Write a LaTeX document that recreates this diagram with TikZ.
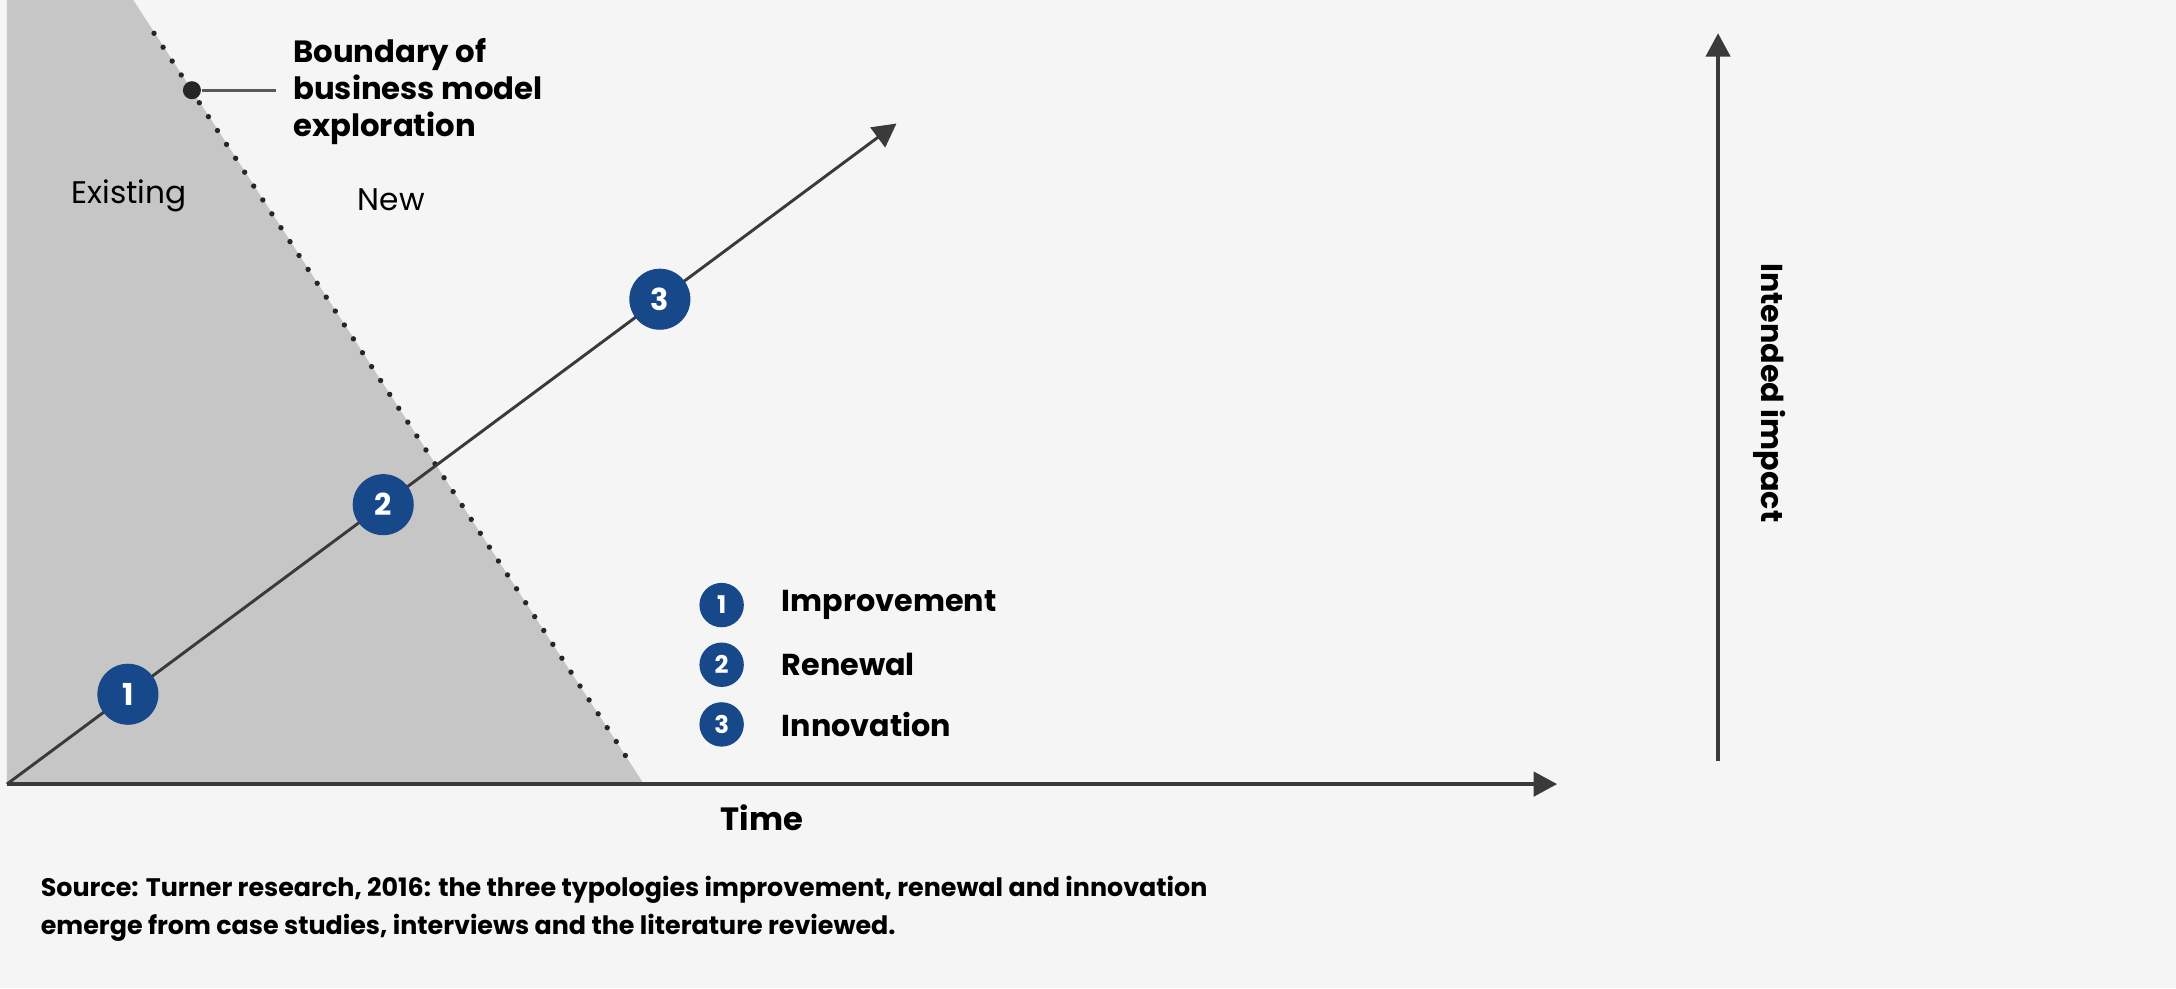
\documentclass[tikz,border=0pt]{standalone}
\usepackage{fontspec}
\setmainfont{Poppins}
\usetikzlibrary{arrows.meta,calc}
\definecolor{paper}{HTML}{F5F5F5}
\definecolor{zonegray}{HTML}{C6C6C6}
\definecolor{typeblue}{HTML}{17488A}
\definecolor{axisgray}{HTML}{3A3A3A}

\begin{document}
\begin{tikzpicture}[
	axis/.style={
		draw=axisgray,
		line width=0.7pt,
		-{Triangle[length=4.8pt,width=5pt]}
	},
	typology/.style={
		circle,
		fill=typeblue,
		text=white,
		inner sep=0pt,
		minimum size=0.44cm,
		font=\fontsize{6.2}{7}\selectfont\bfseries
	},
	legenddot/.style={
		typology,
		minimum size=0.32cm,
		font=\fontsize{5}{6}\selectfont\bfseries
	},
	legendtext/.style={
		anchor=west,
		font=\fontsize{6.2}{8}\selectfont\bfseries
	},
	zonelabel/.style={
		font=\fontsize{6.4}{8}\selectfont
	},
]

\fill[paper] (-0.05,-1.47) rectangle (15.63,5.65);
\useasboundingbox (-0.05,-1.47) rectangle (15.63,5.65);

% existing business models
\fill[zonegray] (0,0) -- (0,5.65) -- (0.91,5.65) -- (4.59,0) -- cycle;

\coordinate (origin) at (0,0);
\coordinate (btop) at (1.06,5.41);
\coordinate (bbot) at (4.48,0.17);
\draw[black!85, line width=1.1pt, line cap=round, dash pattern=on 0pt off 3.4pt] (btop) -- (bbot);

\node[circle, fill=black!85, inner sep=0pt, minimum size=0.13cm] (bmark) at (1.333,5.00) {};
\node[anchor=west, align=left, font=\fontsize{6.3}{7.5}\selectfont\bfseries] 
(btext) at (1.94,4.99) {Boundary of\\business model\\exploration};
\draw[black!65, line width=0.7pt] (bmark) -- (bmark -| btext.west);

\node[zonelabel] (existing) at (0.88,4.24) {Existing};
\node[zonelabel] (new) at (2.77,4.21) {New};

% typology path
\coordinate (dtip) at (6.41,4.76);
\draw[axisgray, line width=0.6pt, -{Triangle[length=4.8pt,width=5pt]}] (origin) -- (dtip);

\node[typology] (t1) at ($(origin)!0.136!(dtip)$) {1};
\node[typology] (t2) at ($(origin)!0.423!(dtip)$) {2};
\node[typology] (t3) at ($(origin)!0.734!(dtip)$) {3};

% axes
\coordinate (xtip) at (11.17,0);
\draw[axis] (origin) -- (xtip);
\node[font=\fontsize{6.6}{8}\selectfont\bfseries] (time) at (5.44,-0.24) {Time};

\coordinate (ybase) at (12.33,0.17);
\coordinate (ytip) at (12.33,5.41);
\draw[axis] (ybase) -- (ytip);
\node[rotate=-90, font=\fontsize{6.2}{8}\selectfont\bfseries] (impact) at (12.70,2.82) {Intended impact};

% legend
\foreach \n/\name/\y in {1/Improvement/1.29, 2/Renewal/0.86, 3/Innovation/0.43} {
	\node[legenddot] (leg\n) at (5.15,\y) {\n};
	\node[legendtext] (legtext\n) at (5.46,\y) {\name};
}

\node[anchor=west, align=left, font=\fontsize{5.2}{7.85}\selectfont\bfseries] 
(source) at (0.12,-0.90) {Source: Turner research, 2016: the three typologies improvement, renewal and innovation\\emerge from case studies, interviews and the literature reviewed.};

\end{tikzpicture}
\end{document}
